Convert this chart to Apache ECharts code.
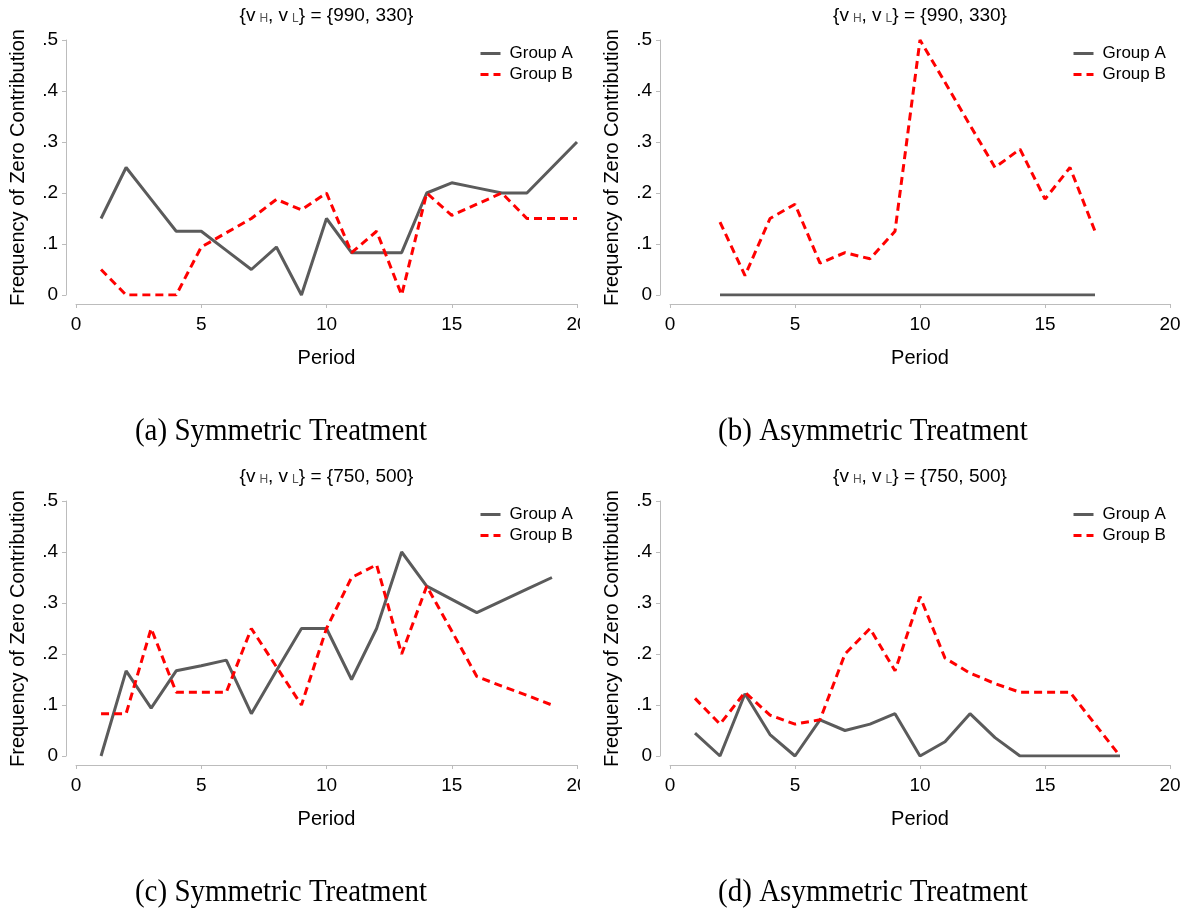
<!DOCTYPE html>
<html>
<head>
<meta charset="utf-8">
<script src="https://cdn.jsdelivr.net/npm/echarts@6/dist/echarts.min.js"></script>
<style>
  html, body { margin: 0; padding: 0; background: #ffffff; }
  body { width: 1185px; height: 909px; position: relative; overflow: hidden; }
  .panel { position: absolute; overflow: hidden; }
</style>
</head>
<body>
<div id="pa" class="panel" style="left:0px;top:0px;width:580px;height:461px;"></div>
<div id="pb" class="panel" style="left:590px;top:0px;width:595px;height:461px;"></div>
<div id="pc" class="panel" style="left:0px;top:461px;width:580px;height:448px;"></div>
<div id="pd" class="panel" style="left:590px;top:461px;width:595px;height:448px;"></div>
<script>
// Frequency of zero contribution per period, by group and treatment
const seriesNames = ['Group A', 'Group B'];
const xTicks = [0, 5, 10, 15, 20];
const yTicks = [0, 0.1, 0.2, 0.3, 0.4, 0.5];
const yTickLabels = ['0', '.1', '.2', '.3', '.4', '.5'];
const xAxisTitle = 'Period';
const yAxisTitle = 'Frequency of Zero Contribution';

// (a) symmetric, {990, 330}
const periodsA_sym990 = [1, 2, 3, 4, 5, 6, 7, 8, 9, 10, 11, 12, 13, 14, 15, 16, 17, 18, 19, 20];
const groupA_sym990 = [0.15, 0.25, 0.1875, 0.125, 0.125, 0.0875, 0.05, 0.094, 0, 0.15, 0.083, 0.083, 0.083, 0.2, 0.22, 0.21, 0.2, 0.2, 0.25, 0.3];
const periodsB_sym990 = [1, 2, 3, 4, 5, 6, 7, 8, 9, 10, 11, 12, 13, 14, 15, 16, 17, 18, 19, 20];
const groupB_sym990 = [0.05, 0, 0, 0, 0.094, 0.122, 0.15, 0.1875, 0.167, 0.2, 0.083, 0.125, 0, 0.2, 0.156, 0.178, 0.2, 0.15, 0.15, 0.15];

// (b) asymmetric, {990, 330}
const periodsA_asym990 = [2, 3, 4, 5, 6, 7, 8, 9, 10, 11, 12, 13, 14, 15, 16, 17];
const groupA_asym990 = [0, 0, 0, 0, 0, 0, 0, 0, 0, 0, 0, 0, 0, 0, 0, 0];
const periodsB_asym990 = [2, 3, 4, 5, 6, 7, 8, 9, 10, 11, 12, 13, 14, 15, 16, 17];
const groupB_asym990 = [0.143, 0.038, 0.15, 0.178, 0.0625, 0.083, 0.071, 0.125, 0.5, 0.417, 0.333, 0.25, 0.286, 0.188, 0.25, 0.125];

// (c) symmetric, {750, 500}
const periodsA_sym750 = [1, 2, 3, 4, 5, 6, 7, 8, 9, 10, 11, 12, 13, 14, 15, 16, 17, 18, 19];
const groupA_sym750 = [0, 0.167, 0.094, 0.167, 0.177, 0.188, 0.083, 0.167, 0.25, 0.25, 0.15, 0.25, 0.4, 0.333, 0.307, 0.281, 0.304, 0.327, 0.35];
const periodsB_sym750 = [1, 2, 3, 4, 5, 6, 7, 8, 9, 10, 11, 12, 13, 14, 15, 16, 17, 18, 19];
const groupB_sym750 = [0.083, 0.083, 0.25, 0.125, 0.125, 0.125, 0.25, 0.175, 0.1, 0.25, 0.35, 0.375, 0.2, 0.333, 0.245, 0.156, 0.137, 0.119, 0.1];

// (d) asymmetric, {750, 500}
const periodsA_asym750 = [1, 2, 3, 4, 5, 6, 7, 8, 9, 10, 11, 12, 13, 14, 15, 16, 17, 18];
const groupA_asym750 = [0.045, 0, 0.122, 0.042, 0, 0.071, 0.05, 0.0625, 0.083, 0, 0.028, 0.083, 0.036, 0, 0, 0, 0, 0];
const periodsB_asym750 = [1, 2, 3, 4, 5, 6, 7, 8, 9, 10, 11, 12, 13, 14, 15, 16, 17, 18];
const groupB_asym750 = [0.113, 0.0625, 0.125, 0.08, 0.0625, 0.071, 0.2, 0.25, 0.167, 0.3125, 0.192, 0.1625, 0.142, 0.125, 0.125, 0.125, 0.0625, 0];

const panelTitles = [
  { vh: '990', vl: '330' },
  { vh: '990', vl: '330' },
  { vh: '750', vl: '500' },
  { vh: '750', vl: '500' }
];
const captions = ['(a) Symmetric Treatment', '(b) Asymmetric Treatment', '(c) Symmetric Treatment', '(d) Asymmetric Treatment'];

const SANS = "'Liberation Sans', Arial, sans-serif";
const SERIF = "'Liberation Serif', 'Times New Roman', serif";
const GRAY = '#5b5b5b';
const RED = '#ff0000';
const AXIS = '#bcbcbc';

function pairs(xs, ys) {
  return xs.map((x, i) => [x, ys[i]]);
}

function buildPanel(domId, layout, title, caption, dataA, dataB) {
  const chart = echarts.init(document.getElementById(domId), null, { renderer: 'canvas' });
  const plotCenter = layout.gridLeft + layout.gridWidth / 2;
  const option = {
    animation: false,
    backgroundColor: '#ffffff',
    grid: {
      left: layout.gridLeft,
      top: layout.gridTop,
      width: layout.gridWidth,
      height: layout.gridHeight,
      containLabel: false,
      outerBoundsMode: 'none'
    },
    xAxis: {
      type: 'value',
      min: xTicks[0],
      max: xTicks[xTicks.length - 1],
      interval: xTicks[1] - xTicks[0],
      offset: 9,
      name: xAxisTitle,
      nameLocation: 'middle',
      nameGap: 44,
      nameTextStyle: { fontFamily: SANS, fontSize: 20, color: '#000' },
      axisLine: { show: true, onZero: false, lineStyle: { color: AXIS, width: 1 } },
      axisTick: { show: true, length: 4, lineStyle: { color: AXIS } },
      axisLabel: { fontFamily: SANS, fontSize: 19, color: '#000', margin: 11 },
      splitLine: { show: false }
    },
    yAxis: {
      type: 'value',
      min: yTicks[0],
      max: yTicks[yTicks.length - 1],
      interval: yTicks[1] - yTicks[0],
      offset: 10,
      name: yAxisTitle,
      nameLocation: 'middle',
      nameGap: 38,
      nameTextStyle: { fontFamily: SANS, fontSize: 20, color: '#000' },
      axisLine: { show: true, onZero: false, lineStyle: { color: AXIS, width: 1 } },
      axisTick: { show: true, length: 4, lineStyle: { color: AXIS } },
      axisLabel: {
        fontFamily: SANS, fontSize: 19, color: '#000', margin: 8,
        formatter: function (v) {
          const idx = yTicks.findIndex(t => Math.abs(t - v) < 1e-9);
          return idx >= 0 ? yTickLabels[idx] : '';
        }
      },
      splitLine: { show: false }
    },
    legend: {
      orient: 'vertical',
      left: layout.legendLeft,
      top: 45,
      padding: 0,
      itemWidth: 20,
      itemHeight: 14,
      itemGap: 4,
      data: seriesNames,
      itemStyle: { opacity: 0 },
      lineStyle: { width: 3 },
      textStyle: { fontFamily: SANS, fontSize: 17, color: '#000', lineHeight: 17, padding: [0, 0, 0, 4] }
    },
    graphic: [
      {
        type: 'text',
        x: plotCenter,
        y: 16,
        style: {
          text: '{v{s|H}, v{s|L}} = {' + title.vh + ', ' + title.vl + '}',
          font: '19px ' + SANS,
          fill: '#000',
          align: 'center',
          verticalAlign: 'middle',
          rich: {
            s: { fontFamily: SANS, fontSize: 12, fill: '#555', padding: [6, 0, 0, 4] }
          }
        }
      },
      {
        type: 'text',
        x: layout.captionX,
        y: 432,
        scaleY: 1.1,
        style: {
          text: caption,
          font: '29px ' + SERIF,
          fill: '#000',
          align: 'center',
          verticalAlign: 'middle'
        }
      }
    ],
    series: [
      {
        name: seriesNames[0],
        type: 'line',
        data: dataA,
        symbol: 'none',
        lineStyle: { color: GRAY, width: 3, type: 'solid' },
        itemStyle: { color: GRAY },
        z: 2
      },
      {
        name: seriesNames[1],
        type: 'line',
        data: dataB,
        symbol: 'none',
        lineStyle: { color: RED, width: 3, type: [8, 5] },
        itemStyle: { color: RED },
        z: 3
      }
    ]
  };
  chart.setOption(option);
  return chart;
}

const leftLayout = { gridLeft: 76, gridTop: 40, gridWidth: 501, gridHeight: 255, legendLeft: 479, captionX: 281 };
const rightLayout = { gridLeft: 80, gridTop: 40, gridWidth: 500, gridHeight: 255, legendLeft: 482, captionX: 283 };

buildPanel('pa', leftLayout, panelTitles[0], captions[0],
  pairs(periodsA_sym990, groupA_sym990), pairs(periodsB_sym990, groupB_sym990));
buildPanel('pb', rightLayout, panelTitles[1], captions[1],
  pairs(periodsA_asym990, groupA_asym990), pairs(periodsB_asym990, groupB_asym990));
buildPanel('pc', leftLayout, panelTitles[2], captions[2],
  pairs(periodsA_sym750, groupA_sym750), pairs(periodsB_sym750, groupB_sym750));
buildPanel('pd', rightLayout, panelTitles[3], captions[3],
  pairs(periodsA_asym750, groupA_asym750), pairs(periodsB_asym750, groupB_asym750));
</script>
</body>
</html>
